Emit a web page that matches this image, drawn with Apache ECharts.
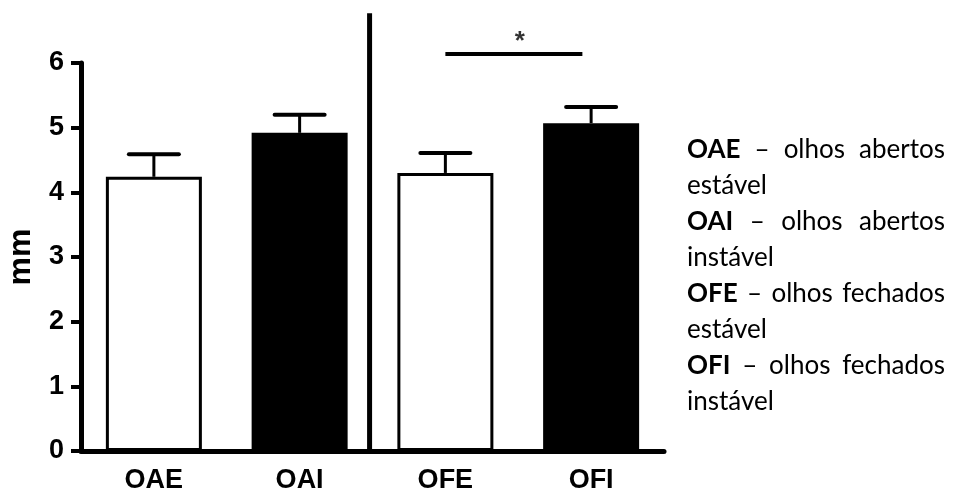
<!DOCTYPE html>
<html>
<head>
<meta charset="utf-8">
<script src="https://cdn.jsdelivr.net/npm/echarts@6/dist/echarts.min.js"></script>
<style>
html,body{margin:0;padding:0;background:#fff;}
#chart{width:960px;height:493px;}
</style>
</head>
<body>
<div id="chart"></div>
<script>
// ---- data ----
const categories = ['OAE', 'OAI', 'OFE', 'OFI'];
const means = [4.24, 4.92, 4.30, 5.07];
const upperErrors = [0.35, 0.28, 0.31, 0.25];
const barFills = ['#ffffff', '#000000', '#ffffff', '#000000'];
const yMin = 0, yMax = 6, yStep = 1;
const yAxisName = 'mm';
const dividerX = 1.48, dividerTop = 6.77;
const sigStart = 2.0, sigEnd = 2.94, sigLevel = 6.14;
const sigMark = '*', sigMarkX = 2.51, sigMarkY = 6.32;
const legendCodes = ['OAE', 'OAI', 'OFE', 'OFI'];
const legendFirstWords = [['olhos', 'abertos'], ['olhos', 'abertos'], ['olhos', 'fechados'], ['olhos', 'fechados']];
const legendSecondLine = ['estável', 'instável', 'estável', 'instável'];

// ---- chart ----
const chart = echarts.init(document.getElementById('chart'), null, {renderer: 'canvas'});
const axisFont = '"Liberation Sans", Arial, sans-serif';

const barData = means.map((v, i) => ({
  value: v,
  itemStyle: {color: barFills[i], borderColor: '#000', borderWidth: 3}
}));
const errData = means.map((v, i) => [i, v, upperErrors[i]]);

// legend text (justified first lines)
const legFont = 'Lato, "Open Sans", sans-serif';
const legSize = 26;
const ctx = document.createElement('canvas').getContext('2d');
function tw(t, bold) { ctx.font = (bold ? 'bold ' : '') + legSize + 'px ' + legFont; return ctx.measureText(t).width; }
const legLeft = 687, legRight = 945, legTop = 150, legLH = 36;
const graphics = [];
legendCodes.forEach((code, i) => {
  const words = [{t: code, b: true}, {t: '–', b: false}].concat(legendFirstWords[i].map(w => ({t: w, b: false})));
  const total = words.reduce((s, w) => s + tw(w.t, w.b), 0);
  const gap = (legRight - legLeft - total) / (words.length - 1);
  let x = legLeft;
  const y1 = legTop + legLH * 2 * i;
  words.forEach(w => {
    graphics.push({type: 'text', x: x, y: y1, style: {text: w.t, fill: '#000', fontSize: legSize, fontFamily: legFont, fontWeight: w.b ? 'bold' : 'normal', verticalAlign: 'middle', align: 'left'}});
    x += tw(w.t, w.b) + gap;
  });
  graphics.push({type: 'text', x: legLeft, y: y1 + legLH, style: {text: legendSecondLine[i], fill: '#000', fontSize: legSize, fontFamily: legFont, verticalAlign: 'middle', align: 'left'}});
});

chart.setOption({
  animation: false,
  backgroundColor: '#fff',
  grid: {left: 81, right: 296, top: 63, bottom: 42, containLabel: false, outerBoundsMode: 'none'},
  xAxis: [{
    type: 'category', data: categories, z: 5,
    axisLine: {onZero: false, lineStyle: {color: '#000', width: 5}},
    axisTick: {show: false},
    axisLabel: {color: '#000', fontSize: 27, fontWeight: 'bold', fontFamily: axisFont, margin: 16}
  }, {
    type: 'value', min: -0.5, max: 3.5, show: false
  }],
  yAxis: {
    type: 'value', min: yMin, max: yMax, interval: yStep, z: 5, position: 'left',
    name: yAxisName, nameLocation: 'middle', nameGap: 44,
    nameTextStyle: {color: '#000', fontSize: 32, fontWeight: 'bold', fontFamily: axisFont},
    axisLine: {show: true, onZero: false, lineStyle: {color: '#000', width: 5}},
    axisTick: {show: true, length: 10, lineStyle: {color: '#000', width: 4}},
    axisLabel: {color: '#000', fontSize: 27, fontWeight: 'bold', fontFamily: axisFont, margin: 17},
    splitLine: {show: false}
  },
  graphic: graphics,
  series: [{
    type: 'bar', data: barData, barWidth: 96, z: 2
  }, {
    type: 'custom', data: errData, z: 3,
    renderItem: function (params, api) {
      const i = api.value(0);
      const base = api.coord([i, api.value(1)]);
      const top = api.coord([i, api.value(1) + api.value(2)]);
      return {type: 'group', children: [
        {type: 'line', shape: {x1: base[0], y1: base[1], x2: top[0], y2: top[1]}, style: {stroke: '#000', lineWidth: 3}},
        {type: 'line', shape: {x1: top[0] - 25, y1: top[1], x2: top[0] + 25, y2: top[1]}, style: {stroke: '#000', lineWidth: 4, lineCap: 'round'}}
      ]};
    }
  }, {
    type: 'line', xAxisIndex: 1, data: [[dividerX, yMin], [dividerX, dividerTop]],
    symbol: 'none', clip: false, lineStyle: {color: '#000', width: 5}, z: 4
  }, {
    type: 'line', xAxisIndex: 1, data: [[sigStart, sigLevel], [sigEnd, sigLevel]],
    symbol: 'none', clip: false, lineStyle: {color: '#000', width: 4}, z: 4
  }, {
    type: 'scatter', xAxisIndex: 1, data: [[sigMarkX, sigMarkY]], symbolSize: 1, clip: false,
    itemStyle: {color: 'rgba(0,0,0,0)'},
    label: {show: true, position: 'inside', formatter: sigMark, color: '#000', fontSize: 26, fontWeight: 'bold', fontFamily: axisFont}
  }]
});
</script>
</body>
</html>
